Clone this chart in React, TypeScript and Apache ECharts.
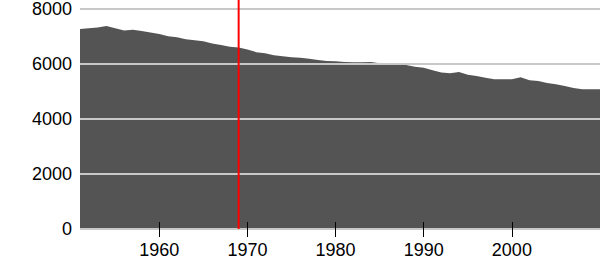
import React, { useEffect, useRef } from "react";
import * as echarts from "echarts";

const years: number[] = [];
for (let y = 1951; y <= 2010; y++) years.push(y);

const values: number[] = [
  7270, 7300, 7330, 7380, 7300, 7220, 7250, 7200, 7150, 7090,
  7010, 6970, 6900, 6860, 6830, 6750, 6690, 6630, 6600, 6530,
  6430, 6390, 6320, 6280, 6250, 6230, 6190, 6150, 6110, 6100,
  6070, 6060, 6060, 6070, 6025, 6000, 5990, 5960, 5900, 5860,
  5770, 5690, 5660, 5710, 5610, 5560, 5500, 5443, 5443, 5450,
  5516, 5407, 5380, 5310, 5260, 5200, 5130, 5080, 5080, 5080,
];

const xTicks = [1960, 1970, 1980, 1990, 2000];
const markerYear = 1969;

export default function App() {
  const ref = useRef<HTMLDivElement>(null);
  useEffect(() => {
    if (!ref.current) return;
    const chart = echarts.init(ref.current, undefined, { renderer: "svg" });
    const font = "'Liberation Sans', Arial, sans-serif";
    const fmt = (v: number) => String(v);
    chart.setOption({
      animation: false,
      grid: [
        { left: 80, right: 0, top: 9, bottom: 31, outerBoundsMode: "none", containLabel: false },
        { left: 80, right: 0, top: 0, bottom: 31, outerBoundsMode: "none", containLabel: false },
      ],
      xAxis: [
        {
          type: "value",
          gridIndex: 0,
          min: 1951,
          max: 2010,
          z: 5,
          axisLine: { show: false },
          splitLine: { show: false },
          axisTick: {
            show: true,
            inside: false,
            length: 8,
            customValues: xTicks,
            lineStyle: { color: "#000", width: 1 },
          },
          axisLabel: {
            customValues: xTicks,
            formatter: fmt,
            margin: 14,
            lineHeight: 14,
            color: "#000",
            fontSize: 18,
            fontFamily: font,
          },
        },
        {
          type: "value",
          gridIndex: 0,
          position: "bottom",
          min: 1951,
          max: 2010,
          z: 5,
          axisLine: { show: false },
          splitLine: { show: false },
          axisTick: {
            show: true,
            inside: true,
            length: 7,
            customValues: xTicks,
            lineStyle: { color: "#000", width: 1 },
          },
          axisLabel: { show: false },
        },
        {
          type: "value",
          gridIndex: 1,
          min: 1951,
          max: 2010,
          show: false,
        },
      ],
      yAxis: [
        {
          type: "value",
          gridIndex: 0,
          min: 0,
          max: 8000,
          interval: 2000,
          z: 5,
          axisLine: { show: false },
          axisTick: { show: false },
          splitLine: { show: true, lineStyle: { color: "#c8c8c8", width: 2 } },
          axisLabel: {
            formatter: fmt,
            margin: 8,
            color: "#000",
            fontSize: 18,
            fontFamily: font,
          },
        },
        {
          type: "value",
          gridIndex: 1,
          min: 0,
          max: 1,
          show: false,
        },
      ],
      series: [
        {
          type: "line",
          xAxisIndex: 0,
          yAxisIndex: 0,
          data: years.map((y, i) => [y, values[i]]),
          symbol: "none",
          lineStyle: { width: 0 },
          areaStyle: { color: "#545454", opacity: 1 },
          z: 2,
        },
        {
          type: "line",
          xAxisIndex: 2,
          yAxisIndex: 1,
          data: [
            [markerYear, 0],
            [markerYear, 1],
          ],
          symbol: "none",
          lineStyle: { color: "#ff0000", width: 2 },
          z: 10,
        },
      ],
    });
    return () => chart.dispose();
  }, []);
  return <div ref={ref} style={{ width: 600, height: 260, position: "absolute", left: 0, top: 0 }} />;
}
